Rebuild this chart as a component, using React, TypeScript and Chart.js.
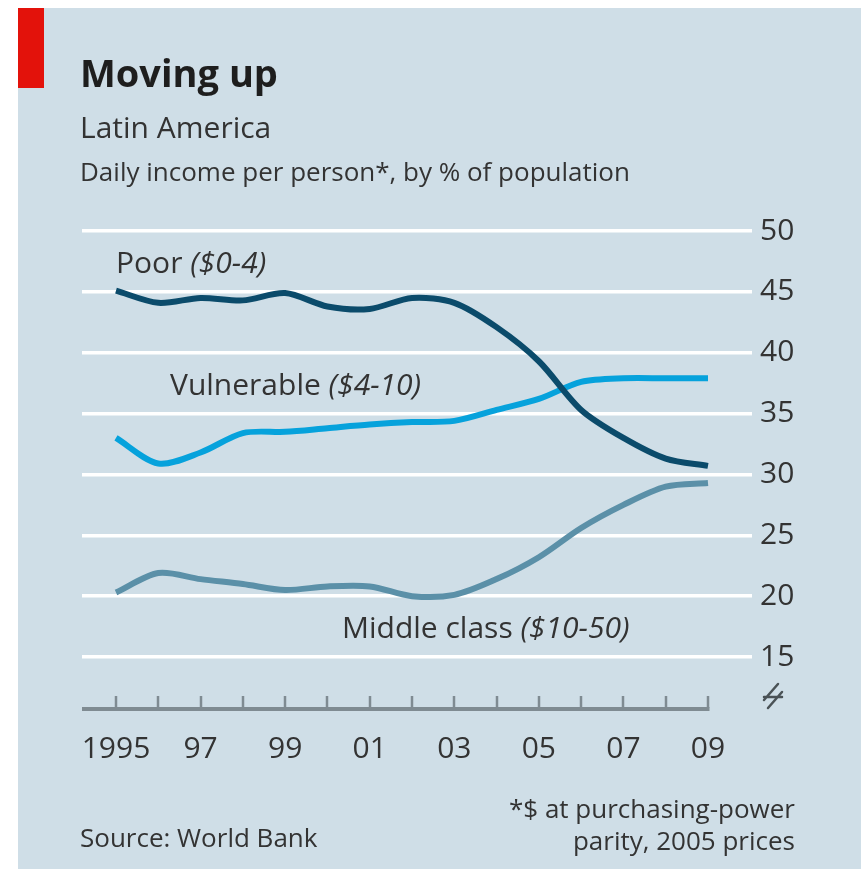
import React, { useEffect, useRef } from 'react';
import { Chart, registerables } from 'chart.js';

Chart.register(...registerables);

// ---- data ----
const years = [1995, 1996, 1997, 1998, 1999, 2000, 2001, 2002, 2003, 2004, 2005, 2006, 2007, 2008, 2009];
const poor = [45.1, 44.1, 44.5, 44.3, 44.9, 43.8, 43.6, 44.5, 44.1, 42.1, 39.3, 35.3, 33.0, 31.3, 30.7];
const vulnerable = [33.0, 30.9, 31.8, 33.4, 33.5, 33.8, 34.1, 34.3, 34.4, 35.3, 36.2, 37.6, 37.9, 37.9, 37.9];
const middleClass = [20.3, 21.9, 21.4, 21.0, 20.5, 20.8, 20.8, 20.0, 20.1, 21.4, 23.2, 25.6, 27.5, 29.0, 29.3];
const yTicks = [15, 20, 25, 30, 35, 40, 45, 50];
const xLabelYears = [1995, 1997, 1999, 2001, 2003, 2005, 2007, 2009];
const xLabels = ['1995', '97', '99', '01', '03', '05', '07', '09'];

// ---- layout ----
const W = 861;
const H = 869;
const AREA = { left: 82, right: 752, top: 231, bottom: 708 };
const FIRST_X = 116;
const LAST_X = 708;
const PX_PER_YEAR = (LAST_X - FIRST_X) / (years[years.length - 1] - years[0]);
const X_MIN = years[0] - (FIRST_X - AREA.left) / PX_PER_YEAR;
const X_MAX = years[0] + (AREA.right - FIRST_X) / PX_PER_YEAR;
const Y_MAX = 50;
const PX_PER_UNIT = (657 - 231) / 35;
const Y_MIN = Y_MAX - (AREA.bottom - AREA.top) / PX_PER_UNIT;

const FONT = "'Open Sans', sans-serif";
const TEXT = '#333333';

const COLORS = {
  poor: '#0b4b6b',
  vulnerable: '#06a2dc',
  middle: '#5b90a8',
};

const seriesLabels = [
  { name: 'Poor ', range: '($0-4)', x: 116, y: 273 },
  { name: 'Vulnerable ', range: '($4-10)', x: 170, y: 395 },
  { name: 'Middle class ', range: '($10-50)', x: 342, y: 638 },
];

const decorPlugin = {
  id: 'decor',
  beforeDraw(chart: any) {
    const { ctx } = chart;
    ctx.save();
    ctx.fillStyle = '#ffffff';
    ctx.fillRect(0, 0, W, H);
    ctx.fillStyle = '#cfdee7';
    ctx.fillRect(18, 8, W - 18, H - 8);
    ctx.fillStyle = '#e3120b';
    ctx.fillRect(18, 8, 26, 80);
    ctx.restore();
  },
  beforeDatasetsDraw(chart: any) {
    const { ctx } = chart;
    const xs = chart.scales.x;
    ctx.save();
    ctx.strokeStyle = '#7f8b92';
    ctx.lineWidth = 2.5;
    years.forEach((yr) => {
      const px = Math.round(xs.getPixelForValue(yr));
      ctx.beginPath();
      ctx.moveTo(px, 696);
      ctx.lineTo(px, 708);
      ctx.stroke();
    });
    ctx.lineWidth = 4;
    ctx.beginPath();
    ctx.moveTo(AREA.left, 709);
    ctx.lineTo(Math.round(xs.getPixelForValue(years[years.length - 1])) + 1.5, 709);
    ctx.stroke();
    // axis break symbol
    ctx.strokeStyle = '#4a5256';
    ctx.lineWidth = 2.5;
    ctx.lineCap = 'round';
    ctx.beginPath();
    ctx.moveTo(764, 700);
    ctx.lineTo(778, 684);
    ctx.moveTo(764, 697);
    ctx.lineTo(782, 697);
    ctx.moveTo(768, 708);
    ctx.lineTo(782, 692);
    ctx.stroke();
    ctx.restore();
  },
  afterDatasetsDraw(chart: any) {
    const { ctx } = chart;
    ctx.save();
    ctx.fillStyle = TEXT;
    ctx.textBaseline = 'alphabetic';
    ctx.textAlign = 'left';
    seriesLabels.forEach((l) => {
      ctx.font = `30px ${FONT}`;
      ctx.fillText(l.name, l.x, l.y);
      const w = ctx.measureText(l.name).width;
      ctx.font = `italic 30px ${FONT}`;
      ctx.fillText(l.range, l.x + w, l.y);
    });
    ctx.restore();
  },
};

const textBase: React.CSSProperties = {
  position: 'absolute',
  fontFamily: FONT,
  color: TEXT,
  lineHeight: 1,
  whiteSpace: 'nowrap',
};

export default function App() {
  const ref = useRef<HTMLCanvasElement>(null);

  useEffect(() => {
    const canvas = ref.current;
    if (!canvas) return;
    const mk = (label: string, data: number[], color: string) => ({
      label,
      data: years.map((yr, i) => ({ x: yr, y: data[i] })),
      borderColor: color,
      backgroundColor: color,
      borderWidth: 6,
      pointRadius: 0,
      tension: 0.3,
      borderCapStyle: 'butt' as const,
      borderJoinStyle: 'round' as const,
      fill: false,
    });
    const chart = new Chart(canvas, {
      type: 'line',
      data: {
        datasets: [
          mk('Poor ($0-4)', poor, COLORS.poor),
          mk('Vulnerable ($4-10)', vulnerable, COLORS.vulnerable),
          mk('Middle class ($10-50)', middleClass, COLORS.middle),
        ],
      },
      options: {
        responsive: false,
        animation: false,
        devicePixelRatio: 1,
        layout: { padding: { left: AREA.left, top: AREA.top, right: 0, bottom: 0 } },
        plugins: {
          legend: { display: false },
          title: { display: false },
          tooltip: { enabled: false },
        },
        scales: {
          x: {
            type: 'linear',
            min: X_MIN,
            max: X_MAX,
            grid: { display: false, drawTicks: false },
            border: { display: false },
            afterBuildTicks: (s: any) => {
              s.ticks = xLabelYears.map((v) => ({ value: v }));
            },
            afterFit: (s: any) => {
              s.height = H - AREA.bottom;
            },
            ticks: {
              autoSkip: false,
              maxRotation: 0,
              padding: 23,
              color: TEXT,
              font: { family: FONT, size: 30 },
              callback: (v: any) => {
                const i = xLabelYears.indexOf(Number(v));
                return i >= 0 ? xLabels[i] : '';
              },
            },
          },
          y: {
            type: 'linear',
            position: 'right',
            min: Y_MIN,
            max: Y_MAX,
            afterBuildTicks: (s: any) => {
              s.ticks = yTicks.map((v) => ({ value: v }));
            },
            afterFit: (s: any) => {
              s.width = W - AREA.right;
            },
            grid: { color: '#ffffff', lineWidth: 3.5, drawTicks: false },
            border: { display: false },
            ticks: {
              padding: 8,
              color: TEXT,
              font: { family: FONT, size: 30 },
              callback: (v: any) => String(v),
            },
          },
        },
      },
      plugins: [decorPlugin],
    });
    let alive = true;
    if ((document as any).fonts && (document as any).fonts.ready) {
      (document as any).fonts.ready.then(() => {
        if (alive) chart.update();
      });
    }
    return () => {
      alive = false;
      chart.destroy();
    };
  }, []);

  return (
    <div style={{ position: 'absolute', left: 0, top: 0, width: W, height: H, background: '#fff', overflow: 'hidden' }}>
      <canvas ref={ref} width={W} height={H} style={{ position: 'absolute', left: 0, top: 0, width: W, height: H }} />
      <div style={{ ...textBase, left: 80, top: 53, fontSize: 38, fontWeight: 700, color: '#1e1e1e' }}>Moving up</div>
      <div style={{ ...textBase, left: 80, top: 112, fontSize: 30 }}>Latin America</div>
      <div style={{ ...textBase, left: 80, top: 158, fontSize: 26 }}>Daily income per person*, by % of population</div>
      <div style={{ ...textBase, left: 80, top: 824, fontSize: 26 }}>Source: World Bank</div>
      <div style={{ ...textBase, right: W - 795, top: 792, fontSize: 26, textAlign: 'right', lineHeight: '32px' }}>
        *$ at purchasing-power
        <br />
        parity, 2005 prices
      </div>
    </div>
  );
}
